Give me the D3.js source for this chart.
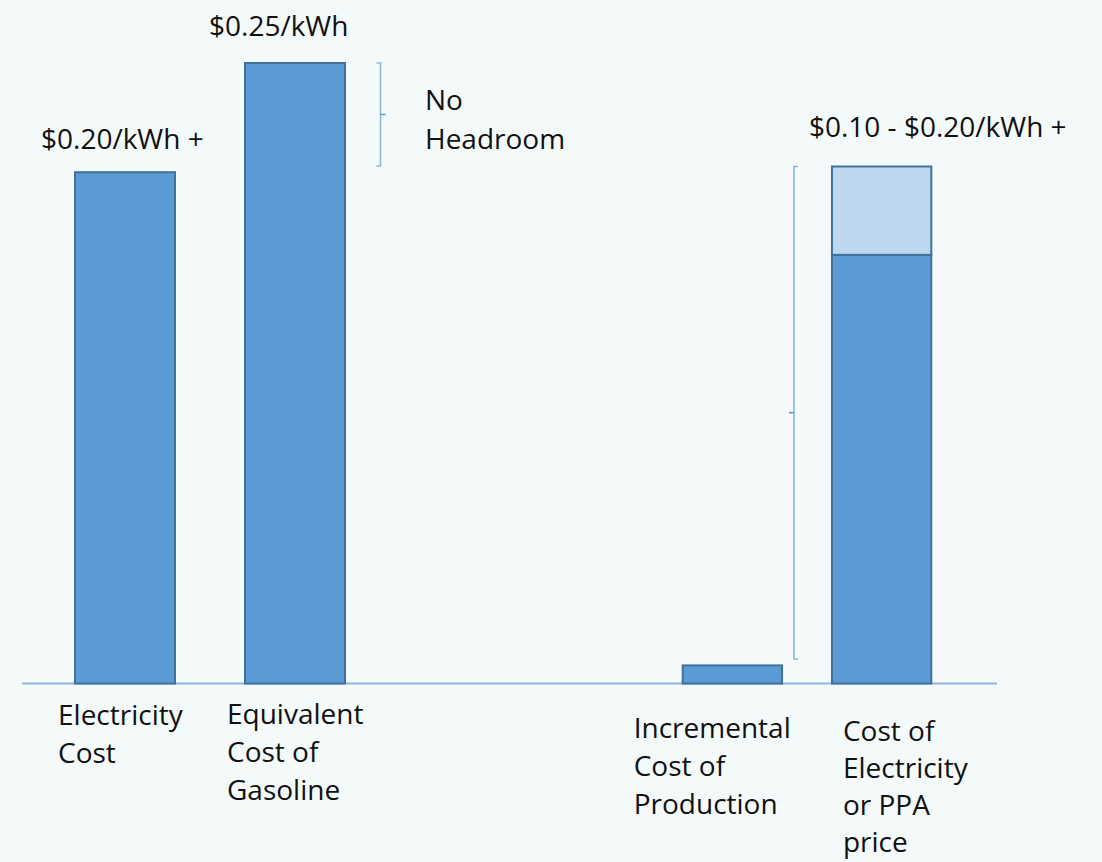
<!DOCTYPE html>
<html>
<head>
<meta charset="utf-8">
<script src="https://cdn.jsdelivr.net/npm/d3@7"></script>
<style>
  html, body { margin: 0; padding: 0; background: #F4F9FA; }
  svg { display: block; }
  text { font-family: "Open Sans", "Noto Sans", sans-serif; fill: #111; }
</style>
</head>
<body>
<script>
// ---- data ----
const categoriesLeft = ["Electricity Cost", "Equivalent Cost of Gasoline"];
const valuesLeft = [0.206, 0.25];
const categoriesRight = ["Incremental Cost of Production", "Cost of Electricity or PPA price"];
const baseValuesRight = [0.0073, 0.1727];
const rangeTopValuesRight = [null, 0.2083];
const valueLabels = ["$0.20/kWh +", "$0.25/kWh", "", "$0.10 - $0.20/kWh +"];
const categoryLabelLines = [
  ["Electricity", "Cost"],
  ["Equivalent", "Cost of", "Gasoline"],
  ["Incremental", "Cost of", "Production"],
  ["Cost of", "Electricity", "or PPA", "price"]
];
const headroomSpan = [0.2085, 0.25];
const headroomLabel = ["No", "Headroom"];
const ppaSpan = [0.0099, 0.2083];

// ---- layout ----
const W = 1102, H = 862;
const svg = d3.select("body").append("svg").attr("width", W).attr("height", H);

const y = d3.scaleLinear().domain([0, 0.25]).range([683.5, 63]);
const xL = d3.scaleBand().domain(categoriesLeft).range([40, 380]).paddingInner(70/170).paddingOuter(35/170);
const xR = d3.scaleBand().domain(categoriesRight).range([657.5, 956.5]).paddingInner(50/149.5).paddingOuter(25.25/149.5);

const fillDark = "#5B9BD5", fillLight = "#BDD7EE", strokeBar = "#41719C";
const lineBlue = "#8DB6E0";

// baseline
svg.append("line").attr("x1", 22).attr("x2", 997).attr("y1", y(0)).attr("y2", y(0))
  .attr("stroke", lineBlue).attr("stroke-width", 2);

// left bars
svg.selectAll("rect.left").data(categoriesLeft).join("rect")
  .attr("x", d => xL(d)).attr("width", xL.bandwidth())
  .attr("y", (d, i) => y(valuesLeft[i])).attr("height", (d, i) => y(0) - y(valuesLeft[i]))
  .attr("fill", fillDark).attr("stroke", strokeBar).attr("stroke-width", 2);

// right bars (base)
svg.selectAll("rect.rightBase").data(categoriesRight).join("rect")
  .attr("x", d => xR(d)).attr("width", xR.bandwidth())
  .attr("y", (d, i) => y(baseValuesRight[i])).attr("height", (d, i) => y(0) - y(baseValuesRight[i]))
  .attr("fill", fillDark).attr("stroke", strokeBar).attr("stroke-width", 2);

// right bars (range top segment)
svg.selectAll("rect.rightTop").data(categoriesRight.filter((d, i) => rangeTopValuesRight[i] != null)).join("rect")
  .attr("x", d => xR(d)).attr("width", xR.bandwidth())
  .attr("y", d => y(rangeTopValuesRight[categoriesRight.indexOf(d)]))
  .attr("height", d => { const i = categoriesRight.indexOf(d); return y(baseValuesRight[i]) - y(rangeTopValuesRight[i]); })
  .attr("fill", fillLight).attr("stroke", strokeBar).attr("stroke-width", 2);

// value labels
const fs = 28;
const barStarts = [xL(categoriesLeft[0]), xL(categoriesLeft[1]), xR(categoriesRight[0]), xR(categoriesRight[1])];
const labelDx = [-34, -36, 0, -23];
const labelBase = [149, 35.5, 0, 137];
valueLabels.forEach((t, i) => {
  if (!t) return;
  svg.append("text").attr("x", barStarts[i] + labelDx[i]).attr("y", labelBase[i])
    .attr("font-size", fs).text(t);
});

// category labels
const catDx = [-17, -18, -49, 11];
const catBase = [725, 724, 738, 741];
const catLh = [38, 38, 38, 37];
categoryLabelLines.forEach((lines, i) => {
  lines.forEach((ln, j) => {
    svg.append("text").attr("x", barStarts[i] + catDx[i]).attr("y", catBase[i] + j * catLh[i])
      .attr("font-size", fs).text(ln);
  });
});

// headroom bracket (right-facing)
const bx1 = 380.5;
const b1Top = y(headroomSpan[1]), b1Bot = y(headroomSpan[0]);
svg.append("path")
  .attr("d", `M${bx1 - 4},${b1Top} H${bx1} V${b1Bot} H${bx1 - 4}`)
  .attr("fill", "none").attr("stroke", lineBlue).attr("stroke-width", 1.6);
svg.append("line").attr("x1", bx1).attr("x2", bx1 + 5)
  .attr("y1", (b1Top + b1Bot) / 2).attr("y2", (b1Top + b1Bot) / 2)
  .attr("stroke", fillDark).attr("stroke-width", 1.6);
headroomLabel.forEach((t, j) => {
  svg.append("text").attr("x", 425).attr("y", 110 + j * 39).attr("font-size", fs).text(t);
});

// PPA bracket (left-facing)
const bx2 = 794;
const b2Top = y(ppaSpan[1]), b2Bot = y(ppaSpan[0]);
svg.append("path")
  .attr("d", `M${bx2 + 4},${b2Top} H${bx2} V${b2Bot} H${bx2 + 4}`)
  .attr("fill", "none").attr("stroke", lineBlue).attr("stroke-width", 1.6);
svg.append("line").attr("x1", bx2).attr("x2", bx2 - 5)
  .attr("y1", (b2Top + b2Bot) / 2).attr("y2", (b2Top + b2Bot) / 2)
  .attr("stroke", fillDark).attr("stroke-width", 1.6);
</script>
</body>
</html>
